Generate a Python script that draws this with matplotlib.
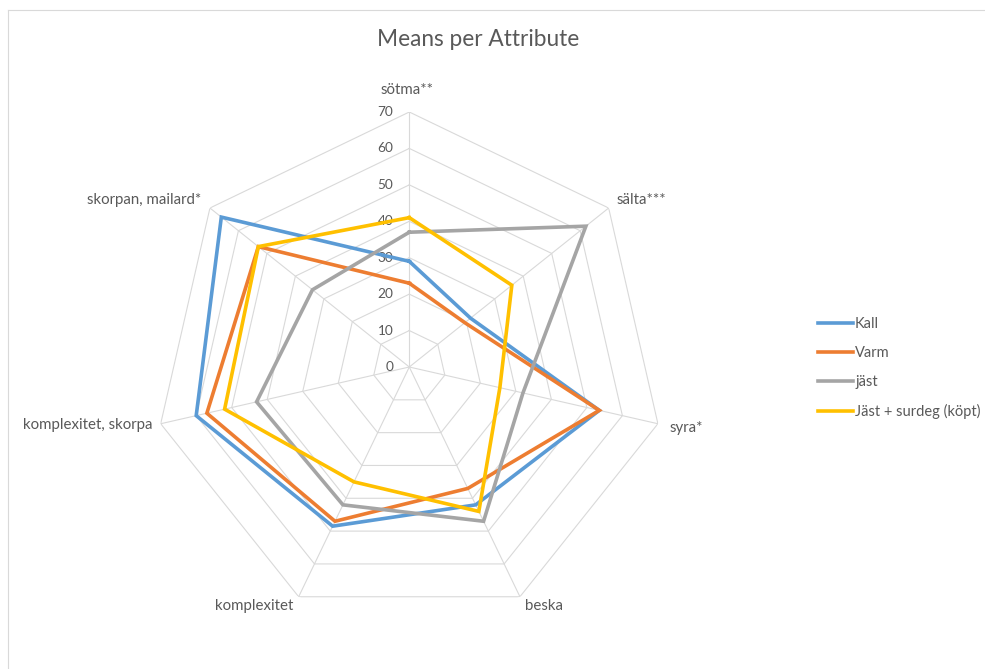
import numpy as np
import matplotlib
matplotlib.use("Agg")
import matplotlib.pyplot as plt
from matplotlib.lines import Line2D

plt.rcParams['font.family'] = ['Lato', 'DejaVu Sans']

# Attribute axes (clockwise from the top) and tick values
categories = ["sötma**", "sälta***", "syra*", "beska", "komplexitet",
              "komplexitet, skorpa", "skorpan, mailard*"]
ticks = [0, 10, 20, 30, 40, 50, 60, 70]

# Mean scores per attribute for each bread
kall = [29, 21.5, 53.5, 42, 48.5, 60, 66]
varm = [23, 19.5, 53.5, 37, 47, 57, 53]
jast = [37, 62, 32, 47, 42, 43, 34]
jast_surdeg = [41, 36, 25.5, 44, 35, 52, 53]

series = [("Kall", kall, "#5B9BD5"),
          ("Varm", varm, "#ED7D31"),
          ("jäst", jast, "#A5A5A5"),
          ("Jäst + surdeg (köpt)", jast_surdeg, "#FFC000")]

W, H = 985, 669
fig = plt.figure(figsize=(W / 100, H / 100), dpi=100)

# chart-area border (top and left edges visible)
fig.add_artist(Line2D([8 / W, 8 / W], [0, 1 - 10 / H], transform=fig.transFigure,
                      color="#D9D9D9", lw=0.8))
fig.add_artist(Line2D([8 / W, 1], [1 - 10 / H, 1 - 10 / H], transform=fig.transFigure,
                      color="#D9D9D9", lw=0.8))

cx, cy, R = 409.3, 367.0, 255.0
ax = fig.add_axes([(cx - R) / W, (H - cy - R) / H, 2 * R / W, 2 * R / H],
                  projection="polar")
ax.set_theta_zero_location("N")
ax.set_theta_direction(-1)
ax.set_ylim(0, 70)
ax.grid(False)
ax.spines["polar"].set_visible(False)
ax.set_xticks([])
ax.set_yticks([])
ax.patch.set_alpha(0)

n = len(categories)
angles = np.arange(n) * 2 * np.pi / n
closed = np.append(angles, angles[0])

grid_col = "#D9D9D9"
for t in ticks[1:]:
    ax.plot(closed, [t] * (n + 1), color=grid_col, lw=0.8, zorder=1)
for a in angles:
    ax.plot([a, a], [0, ticks[-1]], color=grid_col, lw=0.8, zorder=1)

text_col = "#595959"
for t in ticks:
    ax.annotate(str(t), xy=(0, t), xytext=(-16, 0), textcoords="offset pixels",
                ha="right", va="center", fontsize=9.8, color=text_col)

label_offsets = [((-2, 22), "center"), ((8, 8), "left"), ((12, -4), "left"),
                 ((5, -9), "left"), ((-5, -9), "right"), ((-8, -1), "right"),
                 ((-9, 8), "right")]
for a, lab, (off, ha) in zip(angles, categories, label_offsets):
    ax.annotate(lab, xy=(a, ticks[-1]), xytext=off, textcoords="offset pixels",
                ha=ha, va="center", fontsize=10.8, color=text_col)

for name, vals, col in series:
    ax.plot(closed, list(vals) + [vals[0]], color=col, lw=2.6, label=name,
            zorder=3, solid_joinstyle="miter")

fig.text(478.5 / W, 1 - 40 / H, "Means per Attribute", ha="center", va="center",
         fontsize=16.3, color=text_col)

leg = fig.legend(loc="upper left", bbox_to_anchor=(812 / W, 1 - 311 / H),
                 frameon=False, fontsize=10.5, handlelength=2.4, handletextpad=0.15,
                 labelspacing=1.03, borderaxespad=0)
for t in leg.get_texts():
    t.set_color(text_col)

fig.savefig("out.png", dpi=100)
